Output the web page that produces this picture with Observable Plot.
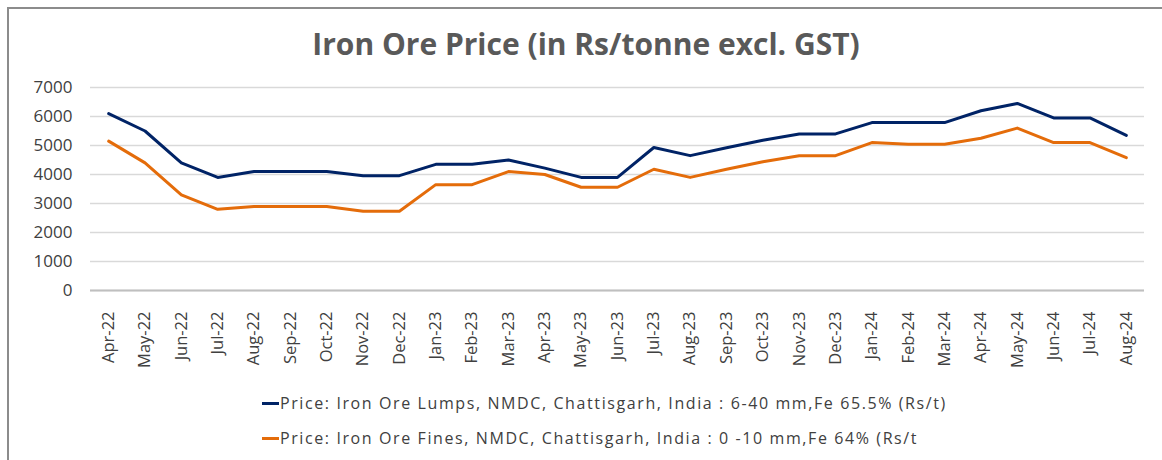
<!DOCTYPE html>
<html>
<head>
<meta charset="utf-8">
<script src="https://cdn.jsdelivr.net/npm/d3@7"></script>
<script src="https://cdn.jsdelivr.net/npm/@observablehq/plot@0.6"></script>
<style>
  html, body { margin: 0; padding: 0; background: #fff; }
  #wrap { position: relative; width: 1162px; height: 460px; overflow: hidden; font-family: "Open Sans", sans-serif; }
  #frame { position: absolute; left: 7px; top: 7px; width: 1200px; height: 500px; border-left: 2px solid #8c8c8c; border-top: 2px solid #8c8c8c; }
  #title { position: absolute; left: 0; width: 1172px; top: 23px; text-align: center; font-size: 30px; font-weight: 700; color: #595959; }
  #chart { position: absolute; left: 0; top: 70px; }
  .leg { position: absolute; left: 262px; font-size: 16px; letter-spacing: 1.6px; color: #404040; display: flex; align-items: center; white-space: nowrap; }
  .leg .sw { width: 17px; height: 3px; margin-right: 1px; }
</style>
</head>
<body>
<div id="wrap">
  <div id="frame"></div>
  <div id="title"></div>
  <div id="chart"></div>
  <div class="leg" id="leg0" style="top:392px"></div>
  <div class="leg" id="leg1" style="top:427px"></div>
</div>
<script>
const titleText = "Iron Ore Price (in Rs/tonne excl. GST)";
const months = ["Apr-22","May-22","Jun-22","Jul-22","Aug-22","Sep-22","Oct-22","Nov-22","Dec-22",
  "Jan-23","Feb-23","Mar-23","Apr-23","May-23","Jun-23","Jul-23","Aug-23","Sep-23","Oct-23","Nov-23","Dec-23",
  "Jan-24","Feb-24","Mar-24","Apr-24","May-24","Jun-24","Jul-24","Aug-24"];
const lumps = [6100,5500,4400,3900,4100,4100,4100,3960,3960,
  4350,4350,4500,4220,3900,3900,4930,4650,4920,5180,5400,5400,
  5790,5790,5790,6200,6450,5950,5950,5350];
const fines = [5150,4400,3300,2800,2900,2900,2900,2730,2730,
  3650,3650,4100,4000,3560,3560,4180,3900,4180,4440,4650,4650,
  5100,5040,5040,5250,5600,5100,5100,4580];
const seriesNames = [
  "Price: Iron Ore Lumps, NMDC, Chattisgarh, India : 6-40 mm,Fe 65.5% (Rs/t)",
  "Price: Iron Ore Fines, NMDC, Chattisgarh, India : 0 -10 mm,Fe 64% (Rs/t"
];
const seriesColors = ["#002366", "#E46C0A"];
const yTicks = [0,1000,2000,3000,4000,5000,6000,7000];

const data = [];
[lumps, fines].forEach((arr, s) => arr.forEach((v, i) => data.push({month: months[i], value: v, series: seriesNames[s]})));

document.getElementById("title").textContent = titleText;

const plot = Plot.plot({
  width: 1162,
  height: 300,
  marginLeft: 90,
  marginRight: 18,
  marginTop: 17,
  marginBottom: 80,
  style: {fontFamily: "Open Sans, sans-serif", fontSize: "16px", color: "#404040", background: "transparent"},
  x: {type: "point", domain: months, padding: 0.5, round: false},
  y: {domain: [0, 7000]},
  color: {domain: seriesNames, range: seriesColors},
  marks: [
    Plot.gridY(yTicks, {stroke: "#d9d9d9", strokeOpacity: 1, strokeWidth: 1.5}),
    Plot.ruleY([0], {stroke: "#bfbfbf", strokeWidth: 2}),
    Plot.axisY({ticks: yTicks, tickFormat: d => String(d), tickSize: 0, tickPadding: 18, label: null, fill: "#404040", fontSize: 17}),
    Plot.axisX({tickRotate: -90, tickSize: 0, tickPadding: 21, label: null, fill: "#404040", fontSize: 16.5}),
    Plot.line(data, {x: "month", y: "value", z: "series", stroke: "series", strokeWidth: 3, strokeLinejoin: "round", strokeLinecap: "round"})
  ]
});
document.getElementById("chart").appendChild(plot);

seriesNames.forEach((n, i) => {
  const el = document.getElementById("leg" + i);
  const sw = document.createElement("span");
  sw.className = "sw";
  sw.style.background = seriesColors[i];
  const t = document.createElement("span");
  t.textContent = n;
  el.appendChild(sw);
  el.appendChild(t);
});
</script>
</body>
</html>
